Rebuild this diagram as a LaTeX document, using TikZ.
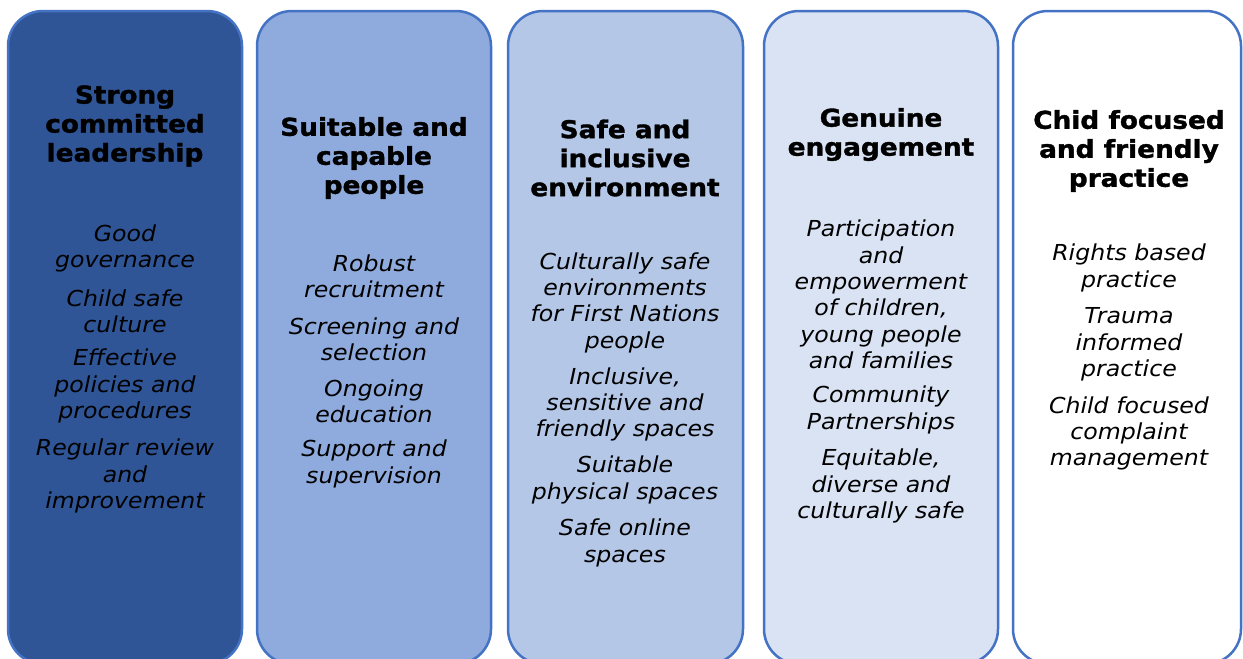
\documentclass[tikz,border=0pt]{standalone}
\usepackage{fontspec}
\setmainfont{DejaVu Sans}[FakeStretch=1.075, BoldFeatures={FakeBold=1.4}]
\definecolor{bordc}{HTML}{4472C4}
\definecolor{fillA}{HTML}{2F5597}
\definecolor{fillB}{HTML}{8FAADC}
\definecolor{fillC}{HTML}{B4C7E7}
\definecolor{fillD}{HTML}{DAE3F3}
\tikzset{
  pillar/.style={draw=bordc, line width=2.5pt, rounded corners=35pt, minimum height=653pt, inner sep=0pt},
  ttl/.style={align=center, font=\fontsize{24.5}{29}\selectfont\bfseries, inner sep=0pt},
  itm/.style={align=center, font=\fontsize{22}{26.3}\selectfont\itshape, inner sep=0pt}
}
\begin{document}
\begin{tikzpicture}[x=1pt,y=-1pt]
\useasboundingbox (0,0) rectangle (1243,659);
\clip (0,0) rectangle (1243,659);
\node[pillar, fill=fillA, minimum width=234pt] (b1) at (125,337.5) {};
\node[pillar, fill=fillB, minimum width=234pt] (b2) at (374,337.5) {};
\node[pillar, fill=fillC, minimum width=235pt] (b3) at (625.5,337.5) {};
\node[pillar, fill=fillD, minimum width=234pt] (b4) at (881,337.5) {};
\node[pillar, fill=white, minimum width=228pt] (b5) at (1127,337.5) {};

% column 1
\node[ttl] (t1) at (125,126) {Strong\\committed\\leadership};
\node[itm] (i11) at (125,248.5) {Good\\governance};
\node[itm] (i12) at (125,311) {Child safe\\culture};
\node[itm] (i13) at (125,386) {Effective\\policies and\\procedures};
\node[itm] (i14) at (125,476) {Regular review\\and\\improvement};

% column 2
\node[ttl] (t2) at (374,158) {Suitable and\\capable\\people};
\node[itm] (i21) at (374,276) {Robust\\recruitment};
\node[itm] (i22) at (374,339) {Screening and\\selection};
\node[itm] (i23) at (374,401.5) {Ongoing\\education};
\node[itm] (i24) at (374,464) {Support and\\supervision};

% column 3
\node[ttl] (t3) at (625,158) {Safe and\\inclusive\\environment};
\node[itm] (i31) at (625,302.5) {Culturally safe\\environments\\for First Nations\\people};
\node[itm] (i32) at (625,404.5) {Inclusive,\\sensitive and\\friendly spaces};
\node[itm] (i33) at (625,480) {Suitable\\physical spaces};
\node[itm] (i34) at (625,543) {Safe online\\spaces};

% column 4
\node[ttl] (t4) at (881,134.5) {Genuine\\engagement};
\node[itm] (i41) at (881,294.5) {Participation\\and\\empowerment\\of children,\\young people\\and families};
\node[itm] (i42) at (881,410) {Community\\Partnerships};
\node[itm] (i43) at (881,486) {Equitable,\\diverse and\\culturally safe};

% column 5
\node[ttl] (t5) at (1129,151) {Chid focused\\and friendly\\practice};
\node[itm] (i51) at (1129,268) {Rights based\\practice};
\node[itm] (i52) at (1129,344.5) {Trauma\\informed\\practice};
\node[itm] (i53) at (1129,433.5) {Child focused\\complaint\\management};
\end{tikzpicture}
\end{document}
